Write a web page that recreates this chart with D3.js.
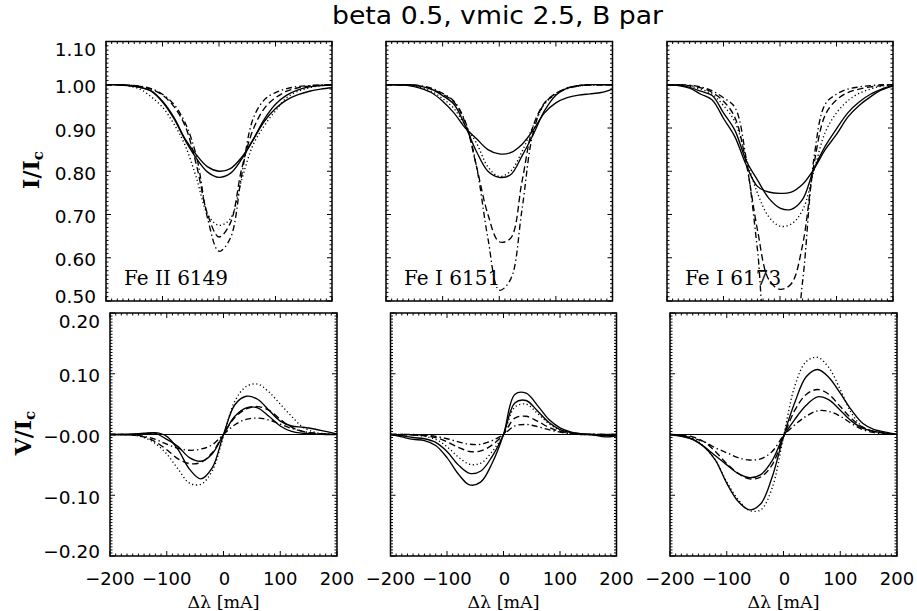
<!DOCTYPE html>
<html><head><meta charset="utf-8">
<script src="https://cdn.jsdelivr.net/npm/d3@7"></script>
<style>body{margin:0;background:#fff}</style>
</head><body><svg id="c" width="917" height="611"></svg>
<script>
// ---------------- DATA ----------------
const dlam = [-200,-180,-160,-140,-120,-100,-80,-60,-40,-20,0,20,40,60,80,100,120,140,160,180,200];
const xTickVals = [-200,-100,0,100,200];
const xTickLabels = ["\u2212200","\u2212100","0","100","200"];
const yTickValsI = [0.5,0.6,0.7,0.8,0.9,1.0,1.1];
const yTickLabelsI = ["0.50","0.60","0.70","0.80","0.90","1.00","1.10"];
const yTickValsV = [-0.2,-0.1,0,0.1,0.2];
const yTickLabelsV = ["\u22120.20","\u22120.10","\u22120.00","0.10","0.20"];
const lineNames = ["Fe II 6149","Fe I 6151","Fe I 6173"];
const titleText = "beta 0.5, vmic 2.5, B par";
const xTitle = "\u0394\u03bb [mA]";

// Stokes I / Ic
const I6149_s1  = [1.000,1.000,0.998,0.994,0.986,0.962,0.925,0.875,0.838,0.810,0.800,0.806,0.832,0.872,0.920,0.955,0.976,0.988,0.995,0.998,1.000];
const I6149_s2  = [1.000,1.000,0.998,0.994,0.985,0.960,0.922,0.872,0.830,0.798,0.786,0.795,0.828,0.872,0.915,0.945,0.965,0.977,0.985,0.990,0.993];
const I6149_dot = [1.000,1.000,0.997,0.990,0.972,0.948,0.910,0.860,0.785,0.700,0.675,0.690,0.780,0.860,0.905,0.940,0.970,0.985,0.993,0.998,1.000];
const I6149_dash= [1.000,1.000,0.999,0.996,0.990,0.976,0.950,0.905,0.815,0.700,0.648,0.680,0.805,0.895,0.945,0.970,0.985,0.993,0.997,0.999,1.000];
const I6149_dd  = [1.000,1.000,0.999,0.997,0.991,0.978,0.955,0.912,0.835,0.690,0.615,0.645,0.790,0.920,0.965,0.982,0.991,0.996,0.998,1.000,1.000];

const I6151_s1  = [1.000,1.000,0.998,0.992,0.982,0.962,0.935,0.900,0.875,0.850,0.840,0.843,0.862,0.895,0.935,0.958,0.970,0.976,0.979,0.982,0.990];
const I6151_s2  = [1.000,1.000,1.000,0.997,0.990,0.975,0.955,0.905,0.845,0.800,0.786,0.792,0.835,0.885,0.940,0.976,0.992,0.998,1.000,1.000,1.000];
const I6151_dot = [1.000,1.000,0.999,0.994,0.985,0.968,0.945,0.905,0.865,0.810,0.788,0.800,0.845,0.905,0.955,0.980,0.992,0.997,0.999,1.000,1.000];
const I6151_dash= [1.000,1.000,1.000,0.997,0.990,0.978,0.960,0.912,0.810,0.700,0.637,0.645,0.775,0.905,0.958,0.980,0.992,0.998,1.000,1.000,1.000];
const I6151_dd  = [1.000,1.000,1.000,0.998,0.992,0.980,0.962,0.915,0.810,0.645,0.525,0.550,0.710,0.890,0.957,0.978,0.991,0.997,1.000,1.000,1.000];

const I6173_s1  = [1.000,0.998,0.992,0.978,0.965,0.922,0.880,0.815,0.765,0.752,0.749,0.752,0.770,0.805,0.850,0.885,0.925,0.952,0.972,0.988,0.997];
const I6173_s2  = [1.000,0.999,0.994,0.985,0.975,0.935,0.895,0.825,0.780,0.738,0.715,0.712,0.735,0.805,0.858,0.898,0.935,0.960,0.978,0.990,0.999];
const I6173_dot = [1.000,0.999,0.996,0.990,0.978,0.952,0.915,0.830,0.750,0.695,0.673,0.678,0.710,0.800,0.890,0.935,0.963,0.980,0.990,0.997,1.000];
const I6173_dash= [1.000,1.000,0.998,0.993,0.982,0.962,0.925,0.820,0.665,0.550,0.527,0.540,0.630,0.815,0.930,0.965,0.982,0.990,0.995,0.998,1.000];
const I6173_dd  = [1.000,1.000,0.999,0.995,0.986,0.970,0.948,0.830,0.620,0.380,0.350,0.370,0.545,0.830,0.955,0.978,0.990,0.995,0.998,1.000,1.000];

// Stokes V / Ic
const V6149_s1  = [0,0,0.001,0.002,0.003,-0.003,-0.025,-0.057,-0.073,-0.055,0,0.049,0.063,0.058,0.040,0.022,0.014,0.012,0.009,0.005,0.001];
const V6149_s2  = [0,0,0,0.001,0.002,-0.008,-0.020,-0.038,-0.044,-0.032,0,0.030,0.044,0.044,0.030,0.014,0.005,0.002,0.001,0,0];
const V6149_dot = [0,0,-0.001,-0.005,-0.015,-0.032,-0.057,-0.080,-0.082,-0.060,-0.003,0.055,0.079,0.083,0.070,0.050,0.030,0.012,0.004,0.001,0];
const V6149_dash= [0,0,-0.001,-0.004,-0.012,-0.025,-0.040,-0.048,-0.046,-0.030,0,0.028,0.042,0.046,0.040,0.025,0.012,0.005,0.002,0.001,0];
const V6149_dd  = [0,0,-0.001,-0.003,-0.008,-0.016,-0.023,-0.026,-0.024,-0.017,0,0.016,0.025,0.027,0.024,0.017,0.010,0.005,0.002,0.001,0];

const V6151_s1  = [0,-0.004,-0.008,-0.010,-0.018,-0.038,-0.065,-0.083,-0.078,-0.047,0,0.066,0.068,0.048,0.025,0.011,0.004,0.001,-0.001,-0.004,-0.002];
const V6151_s2  = [0,-0.002,-0.005,-0.007,-0.013,-0.028,-0.050,-0.064,-0.060,-0.036,0,0.052,0.056,0.039,0.020,0.008,0.003,0.001,0,-0.002,-0.001];
const V6151_dot = [0,0,-0.001,-0.003,-0.008,-0.020,-0.037,-0.049,-0.047,-0.028,0,0.045,0.050,0.035,0.018,0.007,0.002,0.001,0,0,0];
const V6151_dash= [0,0,-0.001,-0.002,-0.005,-0.012,-0.021,-0.028,-0.027,-0.017,0,0.027,0.030,0.022,0.012,0.005,0.002,0,0,0,0];
const V6151_dd  = [0,0,0,-0.001,-0.003,-0.007,-0.012,-0.016,-0.016,-0.010,0,0.014,0.0165,0.013,0.008,0.004,0.001,0,0,0,0];

const V6173_s1  = [0,-0.003,-0.008,-0.020,-0.042,-0.080,-0.110,-0.124,-0.114,-0.070,-0.003,0.053,0.095,0.107,0.094,0.068,0.040,0.018,0.008,0.004,0];
const V6173_s2  = [0,-0.002,-0.008,-0.020,-0.035,-0.050,-0.064,-0.071,-0.066,-0.043,-0.003,0.025,0.048,0.062,0.057,0.040,0.022,0.010,0.005,0.002,0];
const V6173_dot = [0,-0.001,-0.006,-0.020,-0.042,-0.078,-0.107,-0.125,-0.124,-0.088,-0.004,0.080,0.120,0.127,0.110,0.074,0.035,0.012,0.005,0.002,0];
const V6173_dash= [0,-0.001,-0.004,-0.012,-0.028,-0.048,-0.064,-0.073,-0.070,-0.050,-0.004,0.040,0.066,0.074,0.066,0.046,0.026,0.012,0.005,0.002,0];
const V6173_dd  = [0,-0.002,-0.006,-0.012,-0.022,-0.030,-0.038,-0.042,-0.040,-0.028,-0.002,0.016,0.030,0.039,0.038,0.030,0.018,0.008,0.003,0.001,0];
const vZero     = [0,0];

// ---------------- LAYOUT ----------------
const svg = d3.select("#c");
svg.append("rect").attr("width",917).attr("height",611).attr("fill","#fff");

const colsTop = [[106,332],[386,612.5],[667,893]];
const colsBot = [[110,337],[390.5,616.5],[670,897]];
const rowTop = [41.5,301];
const rowBot = [313,556];

const styles = { solid: null, dot: "1.2,2.6", dash: "6.5,3.5", dd: "6,3,1.4,3" };

const seriesI = [
  [I6149_s1,I6149_s2,I6149_dot,I6149_dash,I6149_dd],
  [I6151_s1,I6151_s2,I6151_dot,I6151_dash,I6151_dd],
  [I6173_s1,I6173_s2,I6173_dot,I6173_dash,I6173_dd]
];
const seriesV = [
  [V6149_s1,V6149_s2,V6149_dot,V6149_dash,V6149_dd],
  [V6151_s1,V6151_s2,V6151_dot,V6151_dash,V6151_dd],
  [V6173_s1,V6173_s2,V6173_dot,V6173_dash,V6173_dd]
];
const styleOrder = ["solid","solid","dot","dash","dd"];

const tickFont = "'DejaVu Sans', sans-serif";
const serifFont = "'DejaVu Serif', serif";

function drawPanel(id, xr, yr, yDomain, yMajor, yLabels, yMinorStep, series, opts){
  const x = d3.scaleLinear().domain([-200,200]).range(xr);
  const y = d3.scaleLinear().domain(yDomain).range([yr[1], yr[0]]);
  const g = svg.append("g");
  g.append("clipPath").attr("id",id).append("rect")
    .attr("x",xr[0]).attr("y",yr[0]).attr("width",xr[1]-xr[0]).attr("height",yr[1]-yr[0]);

  const line = d3.line().x((d,i)=>x(dlam[i])).y(d=>y(d)).curve(d3.curveCatmullRom.alpha(0.5));
  const cg = g.append("g").attr("clip-path",`url(#${id})`);
  if (opts.zero){
    cg.append("path").attr("d", d3.line().x((d,i)=>x(i===0?-200:200)).y(d=>y(d))(vZero))
      .attr("fill","none").attr("stroke","#000").attr("stroke-width",1.2);
  }
  series.forEach((vals,k)=>{
    const p = cg.append("path").attr("d",line(vals)).attr("fill","none")
      .attr("stroke","#000").attr("stroke-width",1.35).attr("stroke-linejoin","round");
    const da = styles[styleOrder[k]];
    if (da) p.attr("stroke-dasharray",da);
  });

  // ticks
  const tk = g.append("g").attr("stroke","#000").attr("stroke-width",1);
  const xMinor = d3.range(-200,200.1,10);
  xMinor.forEach(v=>{
    const major = xTickVals.includes(v);
    const L = major ? 5 : 2.5;
    tk.append("line").attr("x1",x(v)).attr("x2",x(v)).attr("y1",yr[1]).attr("y2",yr[1]-L);
    tk.append("line").attr("x1",x(v)).attr("x2",x(v)).attr("y1",yr[0]).attr("y2",yr[0]+L);
  });
  const nMinor = Math.round((yDomain[1]-yDomain[0])/yMinorStep);
  for (let i=0;i<=nMinor;i++){
    const v = yDomain[0]+i*yMinorStep;
    const major = yMajor.some(m=>Math.abs(m-v)<1e-9);
    const L = major ? 5 : 2.5;
    tk.append("line").attr("x1",xr[0]).attr("x2",xr[0]+L).attr("y1",y(v)).attr("y2",y(v));
    tk.append("line").attr("x1",xr[1]).attr("x2",xr[1]-L).attr("y1",y(v)).attr("y2",y(v));
  }
  // frame
  g.append("rect").attr("x",xr[0]).attr("y",yr[0]).attr("width",xr[1]-xr[0]).attr("height",yr[1]-yr[0])
    .attr("fill","none").attr("stroke","#000").attr("stroke-width",1.5);

  // y tick labels
  if (opts.yLabels){
    yMajor.forEach((v,i)=>{
      let yy = Math.max(yr[0]+8, Math.min(yr[1]-5, y(v)+2));
      g.append("text").attr("x",xr[0]-10).attr("y",yy).attr("dy","0.36em")
        .attr("text-anchor","end").attr("font-family",tickFont).attr("font-size",18.5)
        .text(yLabels[i]);
    });
  }
  // x tick labels
  if (opts.xLabels){
    xTickVals.forEach((v,i)=>{
      g.append("text").attr("x",x(v)+(v===0?1:0)).attr("y",585).attr("text-anchor","middle")
        .attr("font-family",tickFont).attr("font-size",18).text(xTickLabels[i]);
    });
    g.append("text").attr("x",(xr[0]+xr[1])/2).attr("y",608).attr("text-anchor","middle")
      .attr("font-family",serifFont).attr("font-size",17.5).text(xTitle);
  }
  if (opts.name){
    g.append("text").attr("x",xr[0]+18).attr("y",yr[1]-16)
      .attr("font-family",serifFont).attr("font-size",20).text(opts.name);
  }
  return g;
}

for (let c=0;c<3;c++){
  drawPanel("ci"+c, colsTop[c], rowTop, [0.5,1.1], yTickValsI, yTickLabelsI, 0.01, seriesI[c],
    {yLabels: c===0, name: lineNames[c]});
  drawPanel("cv"+c, colsBot[c], rowBot, [-0.2,0.2], yTickValsV, yTickLabelsV, 0.005, seriesV[c],
    {yLabels: c===0, xLabels: true, zero: true});
}

// y titles
function yTitle(cx, cy, main){
  const t = svg.append("text").attr("transform",`translate(${cx},${cy}) rotate(-90)`)
    .attr("text-anchor","middle").attr("font-family",serifFont).attr("font-weight","bold")
    .attr("font-size",22).attr("dy","0.35em");
  t.append("tspan").text(main);
  t.append("tspan").attr("font-size",15).attr("dy","0.3em").text("c");
}
yTitle(31, 170, "I/I");
yTitle(23, 433, "V/I");

// title
svg.append("text").attr("x",497.5).attr("y",24).attr("text-anchor","middle")
  .attr("font-family",tickFont).attr("font-size",24)
  .attr("textLength",331).attr("lengthAdjust","spacingAndGlyphs").text(titleText);
</script></body></html>
